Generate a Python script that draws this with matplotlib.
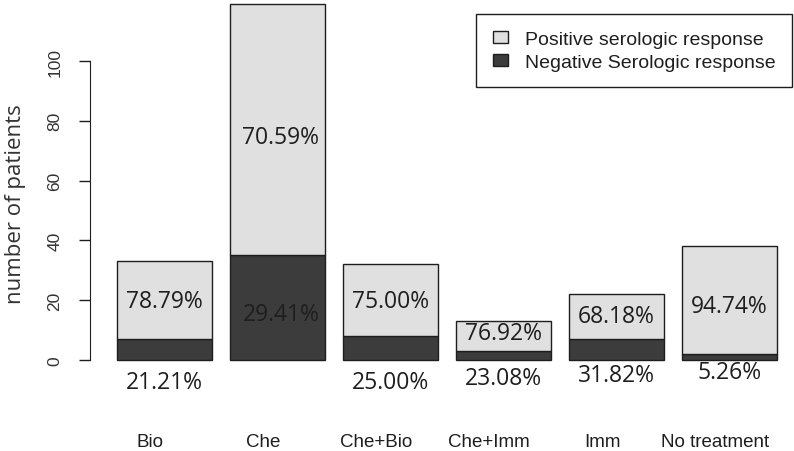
import numpy as np
import matplotlib.pyplot as plt
import matplotlib as mpl
from matplotlib.patches import Patch

mpl.rcParams['font.family'] = 'Liberation Sans'

# data
groups = ['Bio', 'Che', 'Che+Bio', 'Che+Imm', 'Imm', 'No treatment']
negative = np.array([7, 35, 8, 3, 7, 2])
total = np.array([33, 119, 32, 13, 22, 38])
positive = total - negative
pos_pct = ['78.79%', '70.59%', '75.00%', '76.92%', '68.18%', '94.74%']
neg_pct = ['21.21%', '29.41%', '25.00%', '23.08%', '31.82%', '5.26%']

# where the percentage labels sit (in axis units)
pos_lab_y = [19.7, 74.6, 19.7, 9.0, 14.7, 18.1]
neg_lab_y = [-7.4, 15.4, -7.4, -6.0, -5.0, -4.0]

light = '#e0e0e0'
dark = '#3c3c3c'
ink = '#1e1e1e'
num_font = 'Open Sans'

fig = plt.figure(figsize=(7.94, 4.52), dpi=100)
ax = fig.add_axes([90/794, 0, 704/794, 1])

x = np.arange(len(groups))
ax.bar(x, negative, width=0.84, color=dark, edgecolor=ink, linewidth=1)
ax.bar(x, positive, bottom=negative, width=0.84, color=light, edgecolor=ink, linewidth=1)

ax.set_xlim(-0.659, 5.571)
ax.set_ylim(-30.43, 120.74)

for s in ['top', 'right', 'bottom']:
    ax.spines[s].set_visible(False)
ax.spines['left'].set_bounds(0, 100)
ax.spines['left'].set_color(ink)
ax.set_xticks([])
yt = [0, 20, 40, 60, 80, 100]
ax.set_yticks(yt)
ax.set_yticklabels([str(v) for v in yt], rotation=90, va='center',
                   fontsize=12.5, color='#333333')
ax.tick_params(axis='y', length=8, width=1, color=ink, pad=12)

for i in range(len(groups)):
    dx = 0.03 if i == 1 else 0.0
    ax.text(x[i] + dx, pos_lab_y[i], pos_pct[i], ha='center', va='center',
            fontsize=16.5, family=num_font, color=ink)
    ax.text(x[i] + dx, neg_lab_y[i], neg_pct[i], ha='center', va='center',
            fontsize=16.5, family=num_font, color=ink)
    ax.text(x[i] - 0.125, -27.4, groups[i], ha='center', va='center',
            fontsize=13.5, color=ink)

fig.text(16/794, 1 - 204/452, 'number of patients', rotation=90, ha='center',
         va='center', fontsize=16, family=num_font, color='#333333')

handles = [Patch(facecolor=light, edgecolor=ink, linewidth=1),
           Patch(facecolor=dark, edgecolor=ink, linewidth=1)]
leg = ax.legend(handles, ['Positive serologic response', 'Negative Serologic response'],
                loc='upper right', bbox_to_anchor=(792/794, 1 - 15/452),
                bbox_transform=fig.transFigure, borderaxespad=0,
                prop={'size': 14}, fancybox=False,
                handlelength=0.77, handleheight=0.57, handletextpad=0.88,
                labelspacing=0.32, borderpad=0.85, framealpha=1)
leg.get_frame().set_edgecolor(ink)
leg.get_frame().set_linewidth(1)
for t in leg.get_texts():
    t.set_color(ink)

fig.savefig('out.png', dpi=100)
